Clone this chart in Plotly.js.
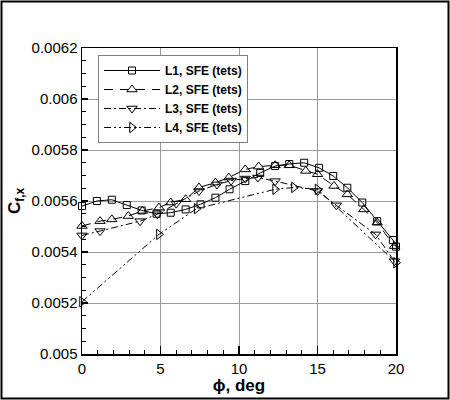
<!DOCTYPE html>
<html>
<head>
<meta charset="utf-8">
<script src="https://cdn.plot.ly/plotly-3.0.1.min.js"></script>
<style>
  html, body { margin: 0; padding: 0; background: #fff; }
  #chart { width: 450px; height: 400px; }
</style>
</head>
<body>
<div id="chart"></div>
<script>
// ---- data ----
var seriesNames = ['L1, SFE (tets)', 'L2, SFE (tets)', 'L3, SFE (tets)', 'L4, SFE (tets)'];

var phiL1 = [0, 0.95, 1.9, 2.85, 3.8, 4.75, 5.65, 6.6, 7.55, 8.5, 9.4, 10.4, 11.35, 12.3, 13.2, 14.15, 15.1, 16.0, 16.9, 17.85, 18.8, 19.8, 20];
var cfL1  = [0.00558, 0.00560, 0.005605, 0.005584, 0.005563, 0.00555, 0.005554, 0.005567, 0.005587, 0.005613, 0.005646, 0.005678, 0.00571, 0.005737, 0.005745, 0.00575, 0.00573, 0.005698, 0.005652, 0.005594, 0.005521, 0.005447, 0.005421];

var phiL2 = [0, 1.15, 1.9, 2.95, 3.85, 4.9, 5.65, 6.6, 7.45, 8.5, 9.35, 10.4, 11.25, 12.3, 13.2, 14.25, 15.0, 16.05, 16.9, 17.95, 18.8, 19.9];
var cfL2  = [0.005502, 0.005521, 0.005528, 0.005541, 0.005561, 0.005574, 0.005594, 0.005607, 0.005653, 0.005672, 0.005692, 0.005724, 0.005735, 0.00574, 0.00574, 0.005718, 0.005705, 0.005659, 0.005626, 0.005567, 0.005515, 0.005423];

var phiL3 = [0, 1.15, 3.7, 4.8, 6.0, 7.45, 8.6, 9.5, 10.4, 11.2, 12.3, 15.0, 16.2, 18.7, 19.9];
var cfL3  = [0.005465, 0.005482, 0.005521, 0.005548, 0.00559, 0.005639, 0.005665, 0.00568, 0.005688, 0.005692, 0.005678, 0.005639, 0.005583, 0.005469, 0.005364];

var phiL4 = [0, 4.9, 7.3, 12.3, 13.5, 15.0, 20];
var cfL4  = [0.005205, 0.005469, 0.00557, 0.005646, 0.005653, 0.005646, 0.005358];

var xTitle = 'ϕ, deg';
var yTitle = 'C<sub>f,x</sub>';

// ---- styling ----
var FONT = '"Liberation Sans", Arial, Helvetica, sans-serif';
function trace(x, y, name, symbol, size, dash) {
  return {
    x: x, y: y, name: name, type: 'scatter', mode: 'lines+markers',
    cliponaxis: false,
    line: { color: '#000', width: 1, dash: dash },
    marker: { symbol: symbol, size: size, color: '#000', line: { color: '#000', width: 1 } }
  };
}

var data = [
  trace(phiL1, cfL1, seriesNames[0], 'square-open', 7, 'solid'),
  trace(phiL2, cfL2, seriesNames[1], 'triangle-up-open', 9, '9px,7px'),
  trace(phiL3, cfL3, seriesNames[2], 'triangle-down-open', 9, '7px,3px,2px,3px'),
  trace(phiL4, cfL4, seriesNames[3], 'triangle-right-open', 9, '7px,3px,2px,3px,2px,3px')
];

var L = 82, R = 54, T = 48, B = 46, W = 450, H = 400;
var pw = W - L - R, ph = H - T - B;
function px(xp) { return (xp - L) / pw; }
function py(yp) { return (H - B - yp) / ph; }

var layout = {
  width: W, height: H,
  margin: { l: L, r: R, t: T, b: B, pad: 0 },
  paper_bgcolor: '#fff', plot_bgcolor: '#fff',
  font: { family: FONT, color: '#000', size: 15 },
  showlegend: true,
  legend: {
    x: px(98), y: py(55), xanchor: 'left', yanchor: 'top',
    bgcolor: '#fff', bordercolor: '#808080', borderwidth: 1,
    font: { family: FONT, size: 12, color: '#000', weight: 'bold' },
    tracegroupgap: 0, itemwidth: 56
  },
  xaxis: {
    range: [0, 20], tick0: 0, dtick: 5, autorange: false,
    showline: true, linecolor: '#000', linewidth: 1.5, mirror: true,
    ticks: 'inside', ticklen: 8, tickwidth: 1.2, tickcolor: '#000',
    minor: { dtick: 1, ticks: 'inside', ticklen: 4, tickcolor: '#000', tickwidth: 1, showgrid: false },
    showgrid: true, gridcolor: '#9a9a9a', gridwidth: 1, zeroline: false,
    tickfont: { family: FONT, size: 15, color: '#000' },
    title: { text: '<b>' + xTitle + '</b>', font: { family: FONT, size: 17, color: '#000' }, standoff: 3 },
    automargin: false
  },
  yaxis: {
    range: [0.005, 0.0062], tick0: 0.005, dtick: 0.0002, autorange: false,
    showline: true, linecolor: '#000', linewidth: 1.5, mirror: true,
    ticks: 'inside', ticklen: 6, tickwidth: 1.2, tickcolor: '#000',
    minor: { dtick: 0.00005, ticks: 'inside', ticklen: 3.5, tickcolor: '#000', tickwidth: 1, showgrid: false },
    showgrid: true, gridcolor: '#9a9a9a', gridwidth: 1, zeroline: false,
    tickfont: { family: FONT, size: 15, color: '#000' },
    title: { text: '<b>' + yTitle + '</b>', font: { family: FONT, size: 17, color: '#000' }, standoff: 6 },
    automargin: false
  },
  shapes: [{
    type: 'rect', xref: 'paper', yref: 'paper', layer: 'above',
    x0: px(1.5), x1: px(448.5), y0: py(398.5), y1: py(1.5),
    line: { color: '#000', width: 2 }, fillcolor: 'rgba(0,0,0,0)'
  }]
};

Plotly.newPlot('chart', data, layout, { staticPlot: true, displayModeBar: false });
</script>
</body>
</html>
